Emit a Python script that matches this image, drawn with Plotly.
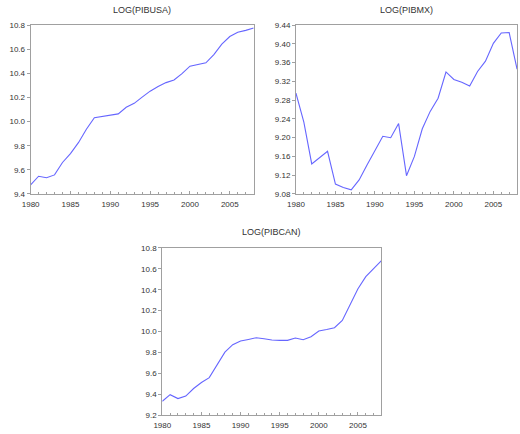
import plotly.graph_objects as go

years = list(range(1980, 2009))

pib_usa = [9.476, 9.547, 9.534, 9.558, 9.661, 9.735, 9.825, 9.936, 10.032, 10.042,
           10.053, 10.064, 10.119, 10.151, 10.203, 10.252, 10.290, 10.323, 10.345, 10.397,
           10.459, 10.473, 10.487, 10.555, 10.642, 10.705, 10.740, 10.756, 10.775]

pib_mx = [9.295, 9.233, 9.144, 9.158, 9.171, 9.101, 9.094, 9.089, 9.110, 9.142,
          9.174, 9.203, 9.200, 9.230, 9.119, 9.160, 9.219, 9.256, 9.284, 9.340,
          9.324, 9.318, 9.310, 9.341, 9.363, 9.401, 9.423, 9.424, 9.346]

pib_can = [9.334, 9.397, 9.360, 9.384, 9.456, 9.513, 9.560, 9.675, 9.803, 9.875,
           9.909, 9.925, 9.941, 9.931, 9.919, 9.916, 9.916, 9.938, 9.922, 9.950,
           10.006, 10.019, 10.037, 10.106, 10.253, 10.409, 10.525, 10.600, 10.678]

titles = ["LOG(PIBUSA)", "LOG(PIBMX)", "LOG(PIBCAN)"]
x_ticks = [1980, 1985, 1990, 1995, 2000, 2005]
y_ranges = [(9.4, 10.8), (9.08, 9.44), (9.2, 10.8)]
y_dticks = [0.2, 0.04, 0.2]
y_formats = [".1f", ".2f", ".1f"]

W, H = 520, 434
# plot-area pixel boxes: (left, right, top, bottom)
boxes = [(22, 249, 21.5, 194), (292, 517, 21.5, 194), (156, 379, 249, 420)]
title_y = [6, 6, 233]

line_color = "#6666ff"
frame_color = "#a0a0a0"
text_color = "#333333"
font_family = "Liberation Sans, Arial, sans-serif"

fig = go.Figure()
series = [pib_usa, pib_mx, pib_can]
for i, vals in enumerate(series):
    n = "" if i == 0 else str(i + 1)
    fig.add_trace(go.Scatter(x=years, y=vals, mode="lines",
                             line=dict(color=line_color, width=1.1),
                             xaxis="x" + n, yaxis="y" + n, showlegend=False,
                             hoverinfo="skip"))
    l, r, t, b = boxes[i]
    xa = dict(domain=[l / W, r / W], range=[1980, 2008], anchor="y" + n,
              tickvals=x_ticks, ticks="inside", ticklen=3, tickcolor=frame_color,
              minor=dict(dtick=1, tick0=1980, ticks="inside", ticklen=2, tickcolor=frame_color),
              showgrid=False, zeroline=False, showline=True, linecolor=frame_color,
              linewidth=1, mirror=True, ticklabelstandoff=2,
              tickfont=dict(size=8, color=text_color, family=font_family))
    ya = dict(domain=[1 - b / H, 1 - t / H], range=list(y_ranges[i]), anchor="x" + n,
              dtick=y_dticks[i], tick0=y_ranges[i][0], tickformat=y_formats[i],
              ticks="outside", ticklen=3, tickcolor=frame_color,
              showgrid=False, zeroline=False, showline=True, linecolor=frame_color,
              linewidth=1, mirror=True,
              tickfont=dict(size=8, color=text_color, family=font_family))
    fig.layout["xaxis" + n] = xa
    fig.layout["yaxis" + n] = ya
    fig.add_annotation(text=titles[i], x=(l + r) / 2 / W, y=1 - title_y[i] / H,
                       xref="paper", yref="paper", xanchor="center", yanchor="middle",
                       showarrow=False,
                       font=dict(size=9, color=text_color, family=font_family))

fig.update_layout(width=W, height=H, margin=dict(l=0, r=0, t=0, b=0),
                  paper_bgcolor="white", plot_bgcolor="white")

fig.write_html("out.html")
